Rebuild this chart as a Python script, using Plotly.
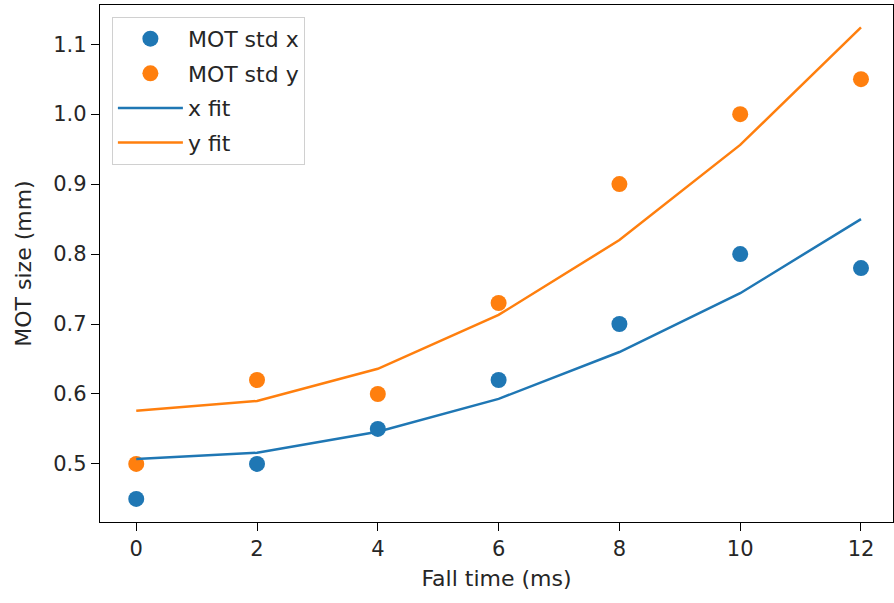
import plotly.graph_objects as go

# Fall time (ms)
fall_time = [0, 2, 4, 6, 8, 10, 12]

# Measured MOT cloud standard deviations (mm)
std_x = [0.45, 0.50, 0.55, 0.62, 0.70, 0.80, 0.78]
std_y = [0.50, 0.62, 0.60, 0.73, 0.90, 1.00, 1.05]

# Ballistic expansion fits evaluated at the same times (mm)
fit_x = [0.507, 0.516, 0.546, 0.593, 0.660, 0.744, 0.850]
fit_y = [0.576, 0.590, 0.636, 0.713, 0.820, 0.956, 1.124]

x_ticks = [0, 2, 4, 6, 8, 10, 12]
y_ticks = [0.5, 0.6, 0.7, 0.8, 0.9, 1.0, 1.1]

BLUE = "#1f77b4"
ORANGE = "#ff7f0e"
FONT = "DejaVu Sans"
TEXT = "#262626"

fig = go.Figure()
fig.add_trace(go.Scatter(x=fall_time, y=std_x, mode="markers", name="MOT std x",
                         legendgroup="a", marker=dict(color=BLUE, size=16)))
fig.add_trace(go.Scatter(x=fall_time, y=std_y, mode="markers", name="MOT std y",
                         legendgroup="b", marker=dict(color=ORANGE, size=16)))
fig.add_trace(go.Scatter(x=fall_time, y=fit_x, mode="lines", name="x fit",
                         legendgroup="c", line=dict(color=BLUE, width=2.5)))
fig.add_trace(go.Scatter(x=fall_time, y=fit_y, mode="lines", name="y fit",
                         legendgroup="d", line=dict(color=ORANGE, width=2.5)))

axis_common = dict(
    showline=True, linecolor="black", linewidth=1.3, mirror=True,
    ticks="outside", ticklen=8, tickwidth=1.3, tickcolor="black",
    showgrid=False, zeroline=False,
    tickfont=dict(family=FONT, size=21, color=TEXT),
)

fig.update_xaxes(range=[-0.6, 12.53], tickvals=x_ticks,
                 title=dict(text="Fall time (ms)", font=dict(family=FONT, size=22, color=TEXT),
                            standoff=10),
                 **axis_common)
fig.update_yaxes(range=[0.417, 1.156], tickvals=y_ticks,
                 tickformat=".1f",
                 title=dict(text="MOT size (mm)", font=dict(family=FONT, size=22, color=TEXT),
                            standoff=15),
                 **axis_common)

fig.update_layout(
    width=894, height=603,
    margin=dict(l=100, r=1, t=5, b=81),
    paper_bgcolor="white", plot_bgcolor="white",
    font=dict(family=FONT, size=22, color=TEXT),
    legend=dict(x=0.015, y=0.977, xanchor="left", yanchor="top",
                bgcolor="rgba(255,255,255,0.8)", bordercolor="#d0d0d0", borderwidth=1,
                font=dict(family=FONT, size=22, color=TEXT),
                tracegroupgap=3, itemwidth=65),
    showlegend=True,
)

fig.write_html("out.html")
